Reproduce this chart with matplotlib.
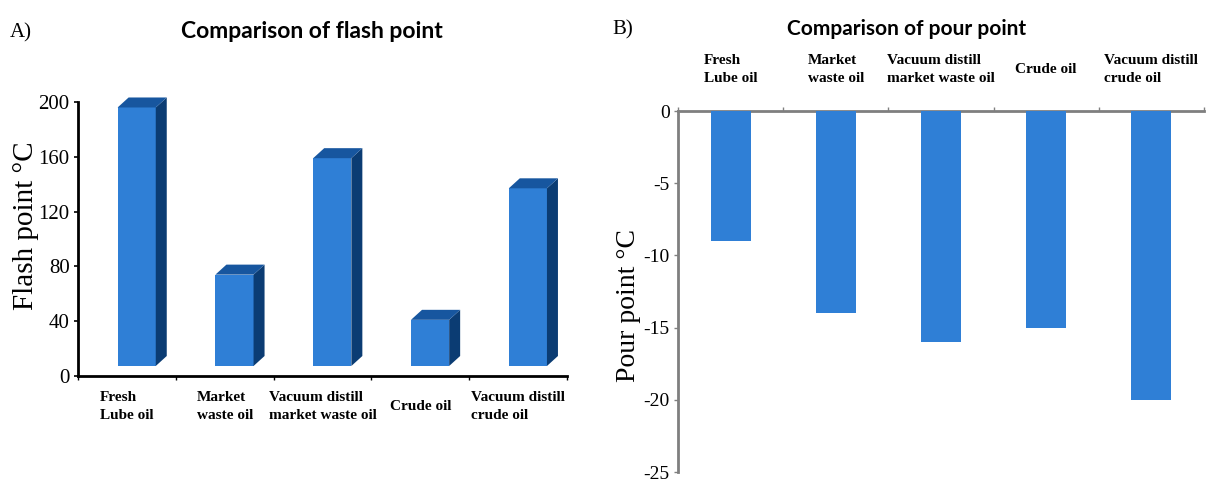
import matplotlib.pyplot as plt
from matplotlib.patches import Polygon
import numpy as np

plt.rcParams['font.family'] = ['Liberation Serif', 'DejaVu Serif']
plt.rcParams['axes.unicode_minus'] = False

# ---------------- data ----------------
categories = ['Fresh\nLube oil', 'Market\nwaste oil', 'Vacuum distill\nmarket waste oil',
              'Crude oil', 'Vacuum distill\ncrude oil']
flash_point = [196, 74, 159, 41, 137]      # deg C
pour_point = [-9, -14, -16, -15, -20]      # deg C
flash_ticks = [0, 40, 80, 120, 160, 200]
pour_ticks = [0, -5, -10, -15, -20, -25]

front_col = '#2f7fd6'
side_col = '#0b3c73'
top_col = '#17569f'

fig = plt.figure(figsize=(12.17, 4.86), dpi=100)
W, H = 1217, 486


def px2data(ax, dx, dy):
    """pixel offset -> data offset for the given axes"""
    inv = ax.transData.inverted()
    x0, y0 = inv.transform((0, 0))
    x1, y1 = inv.transform((dx, dy))
    return x1 - x0, y1 - y0


# ================= A) flash point, pseudo-3D columns =================
axA = fig.add_axes([78 / W, 1 - 376 / H, 489 / W, 274 / H])
x = np.arange(len(categories))
axA.set_xlim(-0.5, 4.5)
axA.set_ylim(0, 200)

_, floor = px2data(axA, 0, 10)          # bars stand slightly above the axis
ddx, ddy = px2data(axA, 11, 10)         # depth of the columns
shift, w = 0.1, 0.39

axA.bar(x + shift, np.array(flash_point) - floor, bottom=floor, width=w,
        color=front_col, edgecolor='none', zorder=3, clip_on=False)
for xi, v in zip(x, flash_point):
    xl, xr = xi + shift - w / 2, xi + shift + w / 2
    side = Polygon([(xr, floor), (xr + ddx, floor + ddy), (xr + ddx, v + ddy), (xr, v)],
                   closed=True, facecolor=side_col, edgecolor='none', zorder=3, clip_on=False)
    top = Polygon([(xl, v), (xr, v), (xr + ddx, v + ddy), (xl + ddx, v + ddy)],
                  closed=True, facecolor=top_col, edgecolor='none', zorder=3, clip_on=False)
    axA.add_patch(side)
    axA.add_patch(top)

axA.set_yticks(flash_ticks)
axA.set_yticklabels([str(t) for t in flash_ticks], fontsize=15)
axA.tick_params(axis='y', length=3, width=1.2, pad=3)
axA.set_xticks(x)
axA.set_xticklabels(categories, fontsize=11, fontweight='bold', linespacing=1.55)
axA.set_xticks(np.arange(-0.5, 5.0, 1.0), minor=True)
axA.tick_params(axis='x', which='major', length=0, pad=22)
axA.tick_params(axis='x', which='minor', length=3, width=1.0)
for lab in axA.get_xticklabels():
    lab.set_verticalalignment('center')
    lab.set_multialignment('left')

for s in ['top', 'right']:
    axA.spines[s].set_visible(False)
for s in ['left', 'bottom']:
    axA.spines[s].set_linewidth(2)
    axA.spines[s].set_color('black')

axA.set_ylabel('Flash point \u00b0C', fontsize=21)
axA.yaxis.set_label_coords(-0.08, 0.55)
fig.text(312 / W, 1 - 32 / H, 'Comparison of flash point', family='Lato',
         fontweight='bold', fontsize=16.5, ha='center', va='center')
fig.text(10 / W, 1 - 33 / H, 'A)', fontsize=15, ha='left', va='center')

# ================= B) pour point, flat columns hanging from 0 =================
axB = fig.add_axes([678 / W, 1 - 472 / H, 526 / W, 361 / H])
axB.bar(x, pour_point, width=0.38, color=front_col, edgecolor='none', zorder=3)
axB.set_xlim(-0.5, 4.5)
axB.set_ylim(-25, 0)

axB.set_yticks(pour_ticks)
axB.set_yticklabels([str(t) for t in pour_ticks], fontsize=14)
axB.tick_params(axis='y', length=3, width=1.0, color='#808080', pad=3)
axB.xaxis.tick_top()
axB.set_xticks(x)
axB.set_xticklabels(categories, fontsize=11, fontweight='bold', linespacing=1.55)
axB.set_xticks(np.arange(-0.5, 5.0, 1.0), minor=True)
axB.tick_params(axis='x', which='major', length=0, pad=30)
axB.tick_params(axis='x', which='minor', length=3, width=1.0, color='#808080')
for lab in axB.get_xticklabels():
    lab.set_verticalalignment('center')
    lab.set_multialignment('left')

for s in ['bottom', 'right']:
    axB.spines[s].set_visible(False)
for s in ['left', 'top']:
    axB.spines[s].set_linewidth(2)
    axB.spines[s].set_color('#7f7f7f')

axB.set_ylabel('Pour point \u00b0C', fontsize=20)
axB.yaxis.set_label_coords(-0.07, 0.46)
fig.text(907 / W, 1 - 29 / H, 'Comparison of pour point', family='Lato',
         fontweight='bold', fontsize=15, ha='center', va='center')
fig.text(612 / W, 1 - 30 / H, 'B)', fontsize=15, ha='left', va='center')

fig.savefig('out.png', dpi=100)
